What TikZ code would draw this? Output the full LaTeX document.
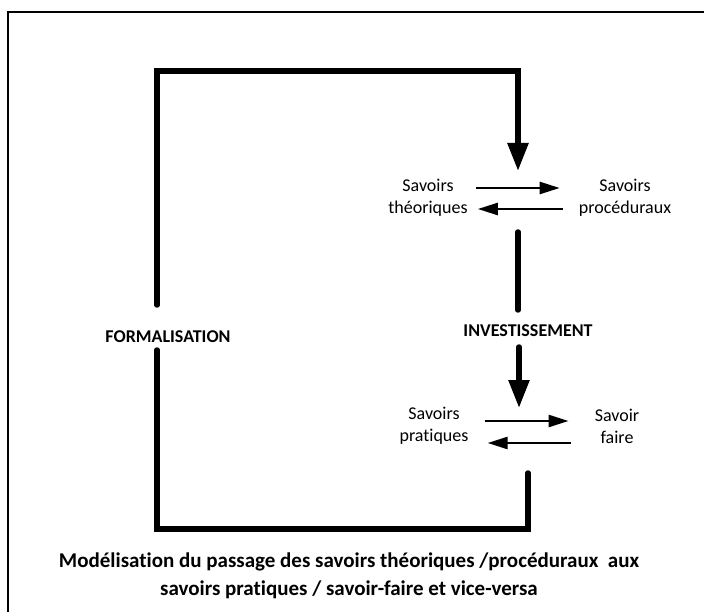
\documentclass[tikz,border=0pt]{standalone}
\usepackage{fontspec}
\setmainfont{Carlito}[Ligatures=CommonOff]
\usetikzlibrary{arrows.meta,calc}

\begin{document}
\begin{tikzpicture}[x=1pt,y=-1pt,
    wide/.style={line width=5.5pt,line cap=round,line join=miter},
    bigtip/.style={-{Triangle[length=28pt,width=20pt]}},
    thin/.style={line width=2.5pt,-{Triangle[length=20pt,width=12pt]}},
    lab/.style={font=\fontsize{18}{22}\selectfont,align=center,inner sep=0pt},
    bold/.style={font=\fontsize{18}{22}\selectfont\bfseries,align=center,inner sep=0pt}]
	\useasboundingbox (0,0) rectangle (704,612);
	\draw[line width=1.5pt] (8,612) -- (8,12) -- (704,12);

	% texts
	\node[lab] (theo) at (428,198) {Savoirs\\théoriques};
	\node[lab] (proc) at (625,198) {Savoirs\\procéduraux};
	\node[lab] (prat) at (434,426) {Savoirs\\pratiques};
	\node[lab] (faire) at (617,426) {Savoir\\faire};
	\node[bold] (invest) at (528,331) {INVESTISSEMENT};
	\node[bold] (formal) at (168,337) {FORMALISATION};
	\node[font=\fontsize{21}{28}\selectfont\bfseries,align=center,inner sep=0pt] (legende) at (349,576)
		{Modélisation du passage des savoirs théoriques /procéduraux \ aux\\savoirs pratiques / savoir-faire et vice-versa};

	% ends of the loop
	\coordinate (F1) at (157,305);
	\coordinate (F2) at (157,350);
	\coordinate (H) at (518,71);
	\coordinate (T) at (518,171);
	\coordinate (I1) at (518,232);
	\coordinate (I2) at (518,310);
	\coordinate (I3) at (519,347);
	\coordinate (P) at (519,408);
	\coordinate (B) at (528,473);
	\coordinate (C) at (157,529);

	\draw[wide] (F1) |- (H) -- ($(T)+(0,-10)$);
	\draw[wide,bigtip] (H) -- (T);
	\draw[wide] (I1) -- (I2);
	\draw[wide,bigtip] (I3) -- (P);
	\draw[wide] (B) |- (C) -- (F2);

	% exchanges
	\draw[thin] ([xshift=8pt,yshift=10pt]theo.east) -- ([xshift=-19pt,yshift=10pt]proc.west);
	\draw[thin] ([xshift=-16pt,yshift=-11pt]proc.west) -- ([xshift=10pt,yshift=-11pt]theo.east);
	\draw[thin] ([xshift=16pt,yshift=5pt]prat.east) -- ([xshift=-26pt,yshift=5pt]faire.west);
	\draw[thin] ([xshift=-24pt,yshift=-17pt]faire.west) -- ([xshift=19pt,yshift=-17pt]prat.east);
\end{tikzpicture}
\end{document}
